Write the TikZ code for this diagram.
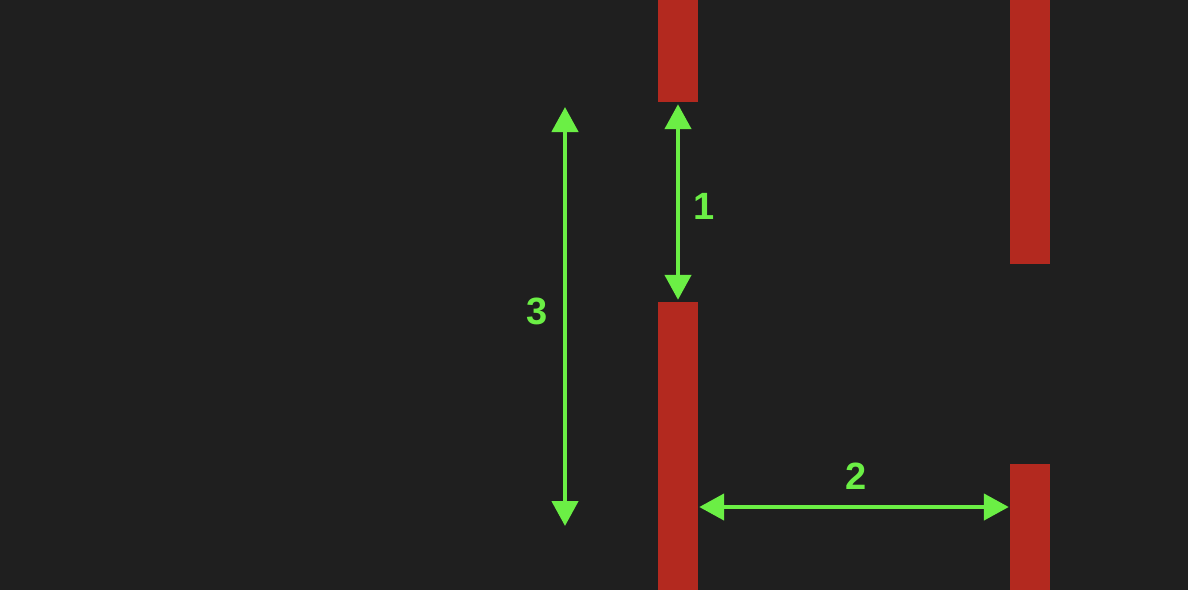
\documentclass[tikz,border=0pt]{standalone}
\usepackage{fontspec}
\setmainfont{Liberation Sans}
\usetikzlibrary{arrows.meta,positioning}
\definecolor{bg}{HTML}{1F1F1F}
\definecolor{wall}{HTML}{B3291F}
\definecolor{measure}{HTML}{6BEF45}

\begin{document}
\begin{tikzpicture}[x=1pt,y=-1pt]
\tikzstyle{bar}=[fill=wall, inner sep=0pt, minimum width=40pt]
\tikzstyle{dim}=[measure, line width=4.5pt, {Triangle[width=26pt,length=25pt]}-{Triangle[width=26pt,length=25pt]}]
\tikzstyle{num}=[text=measure, font=\fontsize{38}{40}\selectfont\bfseries]
\fill[bg] (0,0) rectangle (1188,590);
\useasboundingbox (0,0) rectangle (1188,590);
\node[bar, minimum height=102pt](A) at (678,51) {};
\node[bar, minimum height=288pt](B) at (678,446) {};
\node[bar, minimum height=264pt](C) at (1030,132) {};
\node[bar, minimum height=126pt](D) at (1030,527) {};
\coordinate (M) at (856,507);
\coordinate (T) at (565,107);
\coordinate (U) at (565,526);
\draw[dim, shorten <=2pt, shorten >=2pt] (A) -- (B);
\draw[dim, shorten <=1pt, shorten >=1pt] (B.east |- M) -- (D.west |- M);
\draw[dim] (T) -- (U);
\node[num](L1) at (704,206) {1};
\node[num](L2) at (856,476) {2};
\node[num](L3) at (537,311) {3};
\end{tikzpicture}
\end{document}
